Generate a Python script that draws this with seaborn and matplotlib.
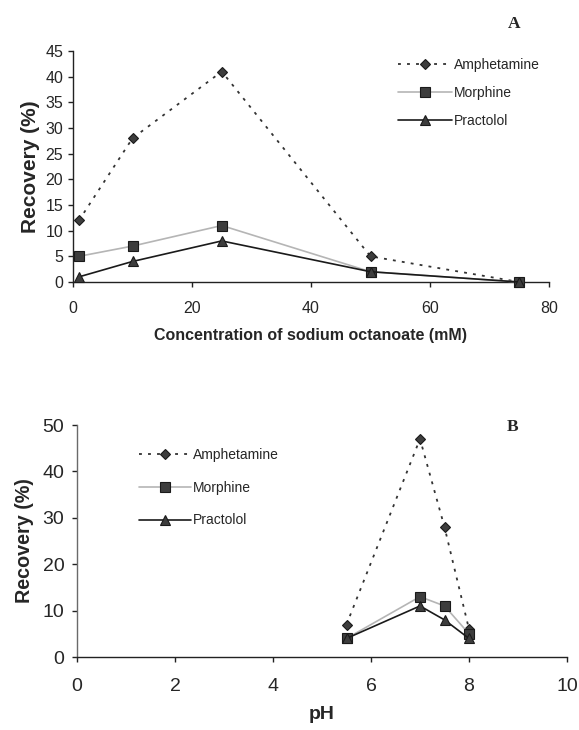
import numpy as np
import pandas as pd
import matplotlib
matplotlib.use("Agg")
import matplotlib.pyplot as plt
import seaborn as sns

# panel A: sodium octanoate concentration (mM)
conc = [1, 10, 25, 50, 75]
amph_a = [12, 28, 41, 5, 0]
morph_a = [5, 7, 11, 2, 0]
pract_a = [1, 4, 8, 2, 0]

# panel B: pH
ph = [5.5, 7, 7.5, 8]
amph_b = [7, 47, 28, 6]
morph_b = [4, 13, 11, 5]
pract_b = [4, 11, 8, 4]

names = ["Amphetamine", "Morphine", "Practolol"]

sns.set_style("white")
plt.rcParams['font.family'] = ['Liberation Sans', 'DejaVu Sans']

styles = {
    "Amphetamine": dict(color="#333333", ls=(0, (1.6, 3.4)), marker="D", ms=5.5, lw=1.3),
    "Morphine": dict(color="#b5b5b5", ls="-", marker="s", ms=7, lw=1.2),
    "Practolol": dict(color="#1a1a1a", ls="-", marker="^", ms=7.5, lw=1.2),
}

W, H = 579, 730
fig = plt.figure(figsize=(W / 100, H / 100), dpi=100)


def box(x0, x1, y0, y1):
    # pixel box -> figure fraction
    return [x0 / W, 1 - y1 / H, (x1 - x0) / W, (y1 - y0) / H]


axA = fig.add_axes(box(73, 549, 51, 282))
axB = fig.add_axes(box(77, 567, 425, 657))


def draw(ax, x, series):
    for name, y in zip(names, series):
        st = styles[name]
        df = pd.DataFrame({"x": x, "y": y})
        sns.lineplot(data=df, x="x", y="y", ax=ax, color=st["color"],
                     linestyle=st["ls"], lw=st["lw"], marker=st["marker"],
                     markersize=st["ms"], markerfacecolor="#3d3d3d",
                     markeredgecolor="#1a1a1a", markeredgewidth=0.8,
                     label=name, clip_on=False, zorder=3)
    for s in ["top", "right"]:
        ax.spines[s].set_visible(False)
    for s in ["left", "bottom"]:
        ax.spines[s].set_color("#222222")
        ax.spines[s].set_linewidth(1.0)
    ax.tick_params(direction="out", length=3.6, width=1, color="#222222",
                   left=True, bottom=True)


draw(axA, conc, [amph_a, morph_a, pract_a])
axA.set_xlim(0, 80)
axA.set_ylim(0, 45)
axA.set_xticks(np.arange(0, 81, 20))
axA.set_yticks(np.arange(0, 46, 5))
axA.tick_params(axis="both", labelsize=11.5)
axA.tick_params(axis="x", pad=10)
axA.tick_params(axis="y", pad=3.5)
axA.set_xlabel("Concentration of sodium octanoate (mM)", fontsize=11.5,
               fontweight="bold", labelpad=9)
axA.set_ylabel("Recovery (%)", fontsize=15, fontweight="bold", labelpad=4)
axA.legend(loc="upper left", bbox_to_anchor=(398 / W, 1 - 58 / H),
           bbox_transform=fig.transFigure, borderpad=0, borderaxespad=0,
           frameon=False, fontsize=10, handlelength=3.9, labelspacing=1.0,
           handletextpad=0.15)
fig.text(514 / W, 1 - 24 / H, "A", fontsize=12.5, fontweight="bold",
         family="Liberation Serif", va="center", ha="center")

draw(axB, ph, [amph_b, morph_b, pract_b])
axB.spines["left"].set_color("#6a6a6a")
axB.set_xlim(0, 10)
axB.set_ylim(0, 50)
axB.set_xticks(np.arange(0, 11, 2))
axB.set_yticks(np.arange(0, 51, 10))
axB.tick_params(axis="both", labelsize=14)
axB.tick_params(axis="x", pad=11.5)
axB.tick_params(axis="y", pad=5.5)
axB.set_xlabel("pH", fontsize=14, fontweight="bold", labelpad=8)
axB.set_ylabel("Recovery (%)", fontsize=14.2, fontweight="bold", labelpad=6)
axB.legend(loc="upper left", bbox_to_anchor=(139 / W, 1 - 448 / H),
           bbox_transform=fig.transFigure, borderpad=0, borderaxespad=0,
           frameon=False, fontsize=10, handlelength=3.75, labelspacing=1.35,
           handletextpad=0.15)
fig.text(513 / W, 1 - 427 / H, "B", fontsize=12.5, fontweight="bold",
         family="Liberation Serif", va="center", ha="center")

fig.savefig("out.png", dpi=100)
